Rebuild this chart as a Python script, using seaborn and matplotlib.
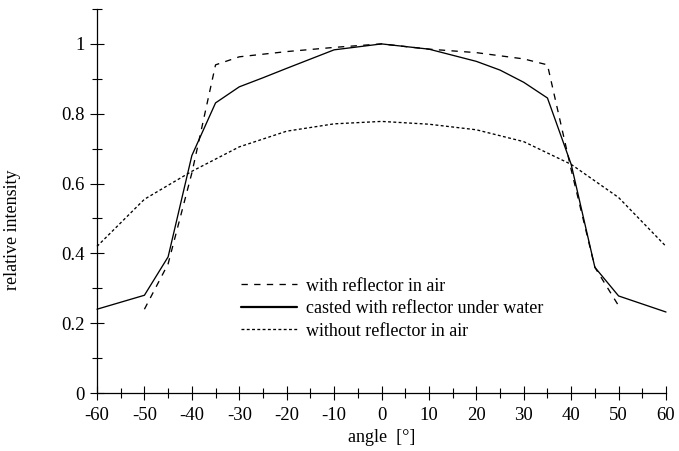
import matplotlib
matplotlib.use("Agg")
import matplotlib.pyplot as plt
from matplotlib.ticker import MultipleLocator, FixedLocator
import seaborn as sns

sns.set_theme(style="white")
plt.rcParams['font.family'] = ['Liberation Serif', 'DejaVu Serif']

# Data
angle_air = [-50, -45, -40, -35, -30, -20, -10, 0, 10, 20, 30, 35, 40, 45, 50]
with_reflector_air = [0.24, 0.37, 0.63, 0.94, 0.963, 0.978, 0.99, 1.0, 0.985, 0.975, 0.957, 0.94, 0.64, 0.36, 0.25]

angle_water = [-60, -50, -45, -40, -35, -30, -25, -20, -10, 0, 10, 20, 25, 30, 35, 40, 45, 50, 60]
casted_under_water = [0.24, 0.28, 0.39, 0.68, 0.831, 0.877, 0.903, 0.93, 0.983, 1.0, 0.985, 0.95, 0.925, 0.89, 0.845, 0.655, 0.36, 0.278, 0.232]

angle_noref = [-60, -50, -40, -30, -20, -10, 0, 10, 20, 30, 40, 50, 60]
without_reflector_air = [0.42, 0.555, 0.635, 0.705, 0.75, 0.771, 0.778, 0.77, 0.754, 0.72, 0.655, 0.56, 0.42]

labels = ["with reflector in air", "casted with reflector under water", "without reflector in air"]
x_ticks = [-60, -50, -40, -30, -20, -10, 0, 10, 20, 30, 40, 50, 60]
y_ticks = [0, 0.2, 0.4, 0.6, 0.8, 1.0]
y_ticklabels = ["0", "0.2", "0.4", "0.6", "0.8", "1"]

fig = plt.figure(figsize=(6.79, 4.51), dpi=100)
ax = fig.add_axes([97/679, 1-393/451, 569/679, 384/451])

lw = 0.95
sns.lineplot(x=angle_air, y=with_reflector_air, ax=ax, color="black", lw=lw,
             sort=False, label=labels[0], linestyle=(0, (4.8, 4.8)))
sns.lineplot(x=angle_water, y=casted_under_water, ax=ax, color="black", lw=lw,
             sort=False, label=labels[1], linestyle="-")
sns.lineplot(x=angle_noref, y=without_reflector_air, ax=ax, color="black", lw=lw,
             sort=False, label=labels[2], linestyle=(0, (2.2, 1.8)))

ax.set_xlim(-60, 60)
ax.set_ylim(0, 1.1)
ax.xaxis.set_major_locator(FixedLocator(x_ticks))
ax.xaxis.set_minor_locator(MultipleLocator(5))
ax.yaxis.set_major_locator(FixedLocator(y_ticks))
ax.yaxis.set_minor_locator(MultipleLocator(0.1))
ax.set_yticklabels(y_ticklabels)
ax.set_xticklabels([str(t) for t in x_ticks])

for s in ["top", "right"]:
    ax.spines[s].set_visible(False)
for s in ["left", "bottom"]:
    ax.spines[s].set_color("black")
    ax.spines[s].set_linewidth(0.9)
ax.spines["left"].set_bounds(0, 1.1)

ax.tick_params(which="major", direction="inout", length=10.5, width=0.8, color="black",
               labelsize=13.5, labelcolor="black")
ax.tick_params(which="minor", direction="inout", length=6.5, width=0.8, color="black")
ax.tick_params(axis="x", which="both", bottom=True, pad=4.5)
ax.tick_params(axis="y", which="both", left=True, pad=3.5)
for ln in ax.lines:
    ln.set_clip_on(False)

ax.set_xlabel("angle  [°]", fontsize=13, color="black", labelpad=4)
ax.set_ylabel("relative intensity", fontsize=13, color="black")
ax.yaxis.set_label_coords(-0.133, 0.425)

leg = ax.legend(loc="upper left", bbox_to_anchor=(0.253, 0.30), frameon=False,
                fontsize=13, handlelength=3.1, handletextpad=0.5,
                labelspacing=0.3, borderaxespad=0, borderpad=0)
for t in leg.get_texts():
    t.set_color("black")
leg.get_lines()[1].set_linewidth(1.6)

fig.savefig("out.png", dpi=100, facecolor="white")
